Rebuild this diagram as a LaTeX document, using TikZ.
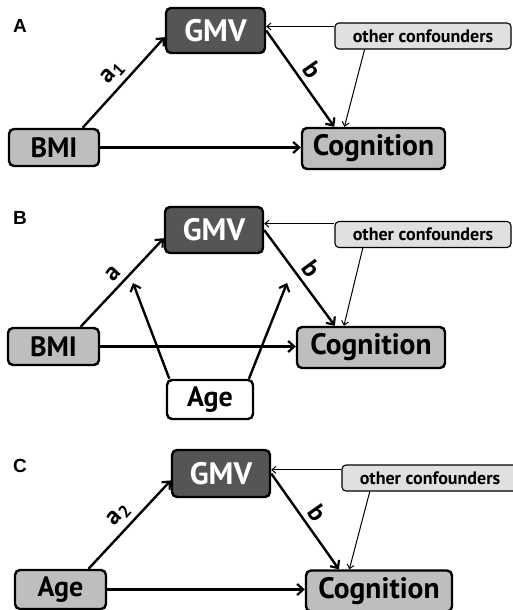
\documentclass[tikz,border=0pt]{standalone}
\usepackage{fontspec}
\setmainfont{PT Sans}
\newfontfamily\panelfont{Liberation Sans}
\usetikzlibrary{arrows.meta,calc}
\definecolor{gmvfill}{HTML}{555555}
\definecolor{boxfill}{HTML}{BEBEBE}
\definecolor{conffill}{HTML}{E0E0E0}
\tikzset{
  mainbox/.style={draw=black, line width=2.4pt, rounded corners=5pt, fill=boxfill,
    inner sep=0pt, font=\fontsize{28}{30}\selectfont\bfseries},
  cogbox/.style={mainbox, font=\fontsize{29.5}{30}\selectfont\bfseries},
  gmvbox/.style={mainbox, fill=gmvfill, text=white, font=\fontsize{31}{32}\selectfont\bfseries},
  agebox/.style={mainbox, fill=white},
  confbox/.style={draw=black, line width=1.1pt, rounded corners=4pt, fill=conffill,
    inner sep=0pt, minimum width=176pt, minimum height=26pt,
    font=\fontsize{18}{20}\selectfont\bfseries},
  thick arrow/.style={line width=2.4pt, -{Straight Barb[length=6pt,width=11pt,line width=2.2pt]}},
  thin arrow/.style={line width=1pt, -{Straight Barb[length=4pt,width=7pt,line width=1pt]}},
  pathlabel/.style={font=\fontsize{25}{28}\selectfont\bfseries, sloped, above, inner sep=5pt},
  panellabel/.style={font=\panelfont\fontsize{19}{20}\selectfont\bfseries, inner sep=0pt}
}
\begin{document}
\begin{tikzpicture}[x=1pt,y=-1pt]
\useasboundingbox (0,0) rectangle (512,610);
% ---------- Panel A ----------
\node[panellabel] (lA) at (20,26) {A};
\node[gmvbox, minimum width=99pt, minimum height=45pt] (gA) at (215.5,30.5) {GMV};
\node[confbox] (oA) at (423,36) {other confounders};
\node[mainbox, minimum width=90pt, minimum height=37pt] (bA) at (54,147.5) {BMI};
\node[cogbox, minimum width=143pt, minimum height=41pt] (cA) at (373.5,148.5) {Cognition};
\draw[thick arrow] ($(bA.north west)!0.81!(bA.north east)$) -- node[pathlabel] {a\textsubscript{1}} ($(gA.north west)!0.64!(gA.south west)$);
\draw[thick arrow] (gA.east) -- node[pathlabel] {b} ($(cA.north west)!0.23!(cA.north east)$);
\draw[thick arrow] (bA.east) -- (bA.east -| cA.west);
\coordinate (oAl) at ($(oA.north west)!0.15!(oA.south west)$);
\draw[thin arrow] (oAl) -- (oAl -| gA.east);
\draw[thin arrow] ($(oA.south west)!0.17!(oA.south east)$) -- ($(cA.north west)!0.3!(cA.north east)$);
% ---------- Panel B ----------
\node[panellabel] (lB) at (20,218) {B};
\node[gmvbox, minimum width=98pt, minimum height=46pt] (gB) at (214,230) {GMV};
\node[confbox] (oB) at (423,234.5) {other confounders};
\node[mainbox, minimum width=91pt, minimum height=37pt] (bB) at (53.5,346.5) {BMI};
\node[cogbox, minimum width=148pt, minimum height=41pt] (cB) at (371,347.5) {Cognition};
\node[agebox, minimum width=86pt, minimum height=39pt] (aB) at (210,399.5) {Age};
\draw[thick arrow] ($(bB.north west)!0.79!(bB.north east)$) -- node[pathlabel] {a} ($(gB.north west)!0.67!(gB.south west)$);
\draw[thick arrow] (gB.east) -- node[pathlabel] {b} ($(cB.north west)!0.26!(cB.north east)$);
\draw[thick arrow] (bB.east) -- (bB.east -| cB.west);
\coordinate (oBl) at ($(oB.north west)!0.1!(oB.south west)$);
\draw[thin arrow] (oBl) -- (oBl -| gB.east);
\draw[thin arrow] ($(oB.south west)!0.16!(oB.south east)$) -- ($(cB.north west)!0.32!(cB.north east)$);
\coordinate (eB1) at (133,283);
\coordinate (eB2) at (287,283);
\draw[thick arrow] ($(aB.north west)!0.04!(aB.north east)$) -- (eB1);
\draw[thick arrow] ($(aB.north west)!0.94!(aB.north east)$) -- (eB2);
% ---------- Panel C ----------
\node[panellabel] (lC) at (20,466) {C};
\node[gmvbox, minimum width=98pt, minimum height=47pt] (gC) at (221,473.5) {GMV};
\node[confbox] (oC) at (430,478) {other confounders};
\node[mainbox, minimum width=91pt, minimum height=39pt] (aC) at (60.5,589.5) {Age};
\node[cogbox, minimum width=146pt, minimum height=41pt] (cC) at (379,591) {Cognition};
\draw[thick arrow] ($(aC.north west)!0.8!(aC.north east)$) -- node[pathlabel] {a\textsubscript{2}} ($(gC.north west)!0.64!(gC.south west)$);
\draw[thick arrow] (gC.east) -- node[pathlabel] {b} ($(cC.north west)!0.23!(cC.north east)$);
\draw[thick arrow] (aC.east) -- (aC.east -| cC.west);
\coordinate (oCl) at ($(oC.north west)!0.2!(oC.south west)$);
\draw[thin arrow] (oCl) -- (oCl -| gC.east);
\draw[thin arrow] ($(oC.south west)!0.16!(oC.south east)$) -- ($(cC.north west)!0.3!(cC.north east)$);
\end{tikzpicture}
\end{document}
